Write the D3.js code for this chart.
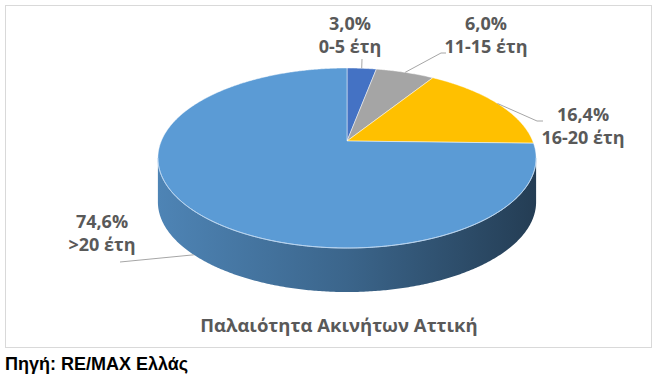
<!DOCTYPE html>
<html>
<head>
<meta charset="utf-8">
<script src="https://cdn.jsdelivr.net/npm/d3@7"></script>
<style>
  body { margin: 0; background: #fff; }
  svg { display: block; }
</style>
</head>
<body>
<svg id="chart" width="661" height="390"></svg>
<script>
// data (6-10 έτη has no share, so it is left out)
const categories = ["0-5 έτη", "11-15 έτη", "16-20 έτη", ">20 έτη"];
const shares = [3.0, 6.0, 16.4, 74.6];
const colors = ["#4472C4", "#A5A5A5", "#FFC000", "#5B9BD5"];
const title = "Παλαιότητα Ακινήτων Αττική";
const source = "Πηγή: RE/MAX Ελλάς";

// greek number format: 3,0%
const grLocale = d3.formatLocale({decimal: ",", thousands: ".", grouping: [3], currency: ["", "€"]});
const fmt = v => grLocale.format(".1f")(v) + "%";

const svg = d3.select("#chart");

// chart frame
svg.append("rect")
    .attr("x", 5.5).attr("y", 5.5)
    .attr("width", 646).attr("height", 342)
    .attr("fill", "#fff")
    .attr("stroke", "#d9d9d9");

// tilted disc in perspective: angle clockwise from 12 o'clock
const cx = 347, cy = 141, R = 185.7, a = 86.8, p = 0.189, depth = 44;
function proj(t, r = 1) {
    const x = r * Math.sin(t), yd = -r * Math.cos(t);
    const s = 1 / (1 - p * yd);
    return [cx + R * x * s, cy + a * yd * s];
}
function arcPts(t0, t1, dy = 0) {
    const n = Math.max(2, Math.ceil((t1 - t0) / (Math.PI / 360)));
    return d3.range(n + 1).map(i => {
        const q = proj(t0 + (t1 - t0) * i / n);
        return [q[0], q[1] + dy];
    });
}

const pie = d3.pie().sort(null).value(d => d.v);
const arcs = pie(shares.map((v, i) => ({v, i})));
const line = d3.line();

// silhouette angles, side wall is visible between them
const tRight = Math.acos(-p), tLeft = 2 * Math.PI - Math.acos(-p);

const defs = svg.append("defs");
arcs.forEach(d => {
    const c = colors[d.data.i];
    const g = defs.append("linearGradient")
        .attr("id", "side" + d.data.i)
        .attr("gradientUnits", "userSpaceOnUse")
        .attr("x1", cx - R * 1.02).attr("x2", cx + R * 1.02)
        .attr("y1", 0).attr("y2", 0);
    g.append("stop").attr("offset", "0%").attr("stop-color", d3.color(c).darker(0.45));
    g.append("stop").attr("offset", "50%").attr("stop-color", d3.color(c).darker(1.2));
    g.append("stop").attr("offset", "100%").attr("stop-color", d3.color(c).darker(2.6));
});

// side walls
arcs.forEach(d => {
    const lo = Math.max(d.startAngle, tRight), hi = Math.min(d.endAngle, tLeft);
    if (lo >= hi) return;
    const pts = arcPts(lo, hi).concat(arcPts(lo, hi, depth).reverse());
    svg.append("path")
        .attr("d", line(pts) + "Z")
        .attr("fill", `url(#side${d.data.i})`);
});

// top face
arcs.forEach(d => {
    const pts = [proj(0, 0)].concat(arcPts(d.startAngle, d.endAngle));
    svg.append("path")
        .attr("d", line(pts) + "Z")
        .attr("fill", colors[d.data.i])
        .attr("stroke", "#fff")
        .attr("stroke-opacity", 0.6)
        .attr("stroke-width", 0.8)
        .attr("stroke-linejoin", "round");
});

// light rim along the front edge
svg.append("path")
    .attr("d", line(arcPts(tRight, tLeft)))
    .attr("fill", "none")
    .attr("stroke", "#b4d3f0")
    .attr("stroke-width", 0.9);

// labels: text centre / baseline and the leader elbow
const labelX = [350, 486, 583, 102];
const labelY = [30, 30, 121, 228];
const elbows = [[[362, 59]], [[441, 53], [446, 53]], [[537, 121], [543, 121]], [[120, 262]]];

arcs.forEach((d, k) => {
    const mid = (d.startAngle + d.endAngle) / 2;
    let start = proj(mid);
    if (-Math.cos(mid) > 0) start = [start[0], start[1] + depth];
    svg.append("path")
        .attr("d", line([start].concat(elbows[k])))
        .attr("fill", "none")
        .attr("stroke", "#a6a6a6")
        .attr("stroke-width", 1);

    const t = svg.append("text")
        .attr("x", labelX[k]).attr("y", labelY[k])
        .attr("text-anchor", "middle")
        .attr("font-family", "'Open Sans', sans-serif")
        .attr("font-weight", "bold")
        .attr("font-size", 18)
        .attr("fill", "#595959");
    t.append("tspan").attr("x", labelX[k]).text(fmt(d.data.v));
    t.append("tspan").attr("x", labelX[k]).attr("dy", 23).text(categories[k]);
});

// chart title
svg.append("text")
    .attr("x", 339).attr("y", 332)
    .attr("text-anchor", "middle")
    .attr("font-family", "'Open Sans', sans-serif")
    .attr("font-weight", "bold")
    .attr("font-size", 18.5)
    .attr("fill", "#595959")
    .text(title);

// source line under the frame
svg.append("text")
    .attr("x", 5).attr("y", 370)
    .attr("font-family", "'Liberation Sans', Arial, sans-serif")
    .attr("font-weight", "bold")
    .attr("font-size", 18)
    .attr("fill", "#000")
    .text(source);
</script>
</body>
</html>
